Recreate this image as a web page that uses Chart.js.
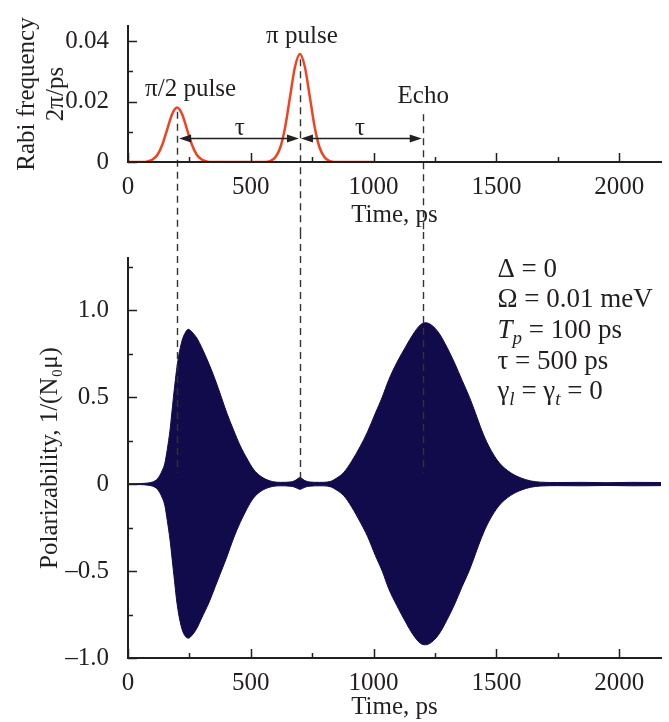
<!DOCTYPE html>
<html>
<head>
<meta charset="utf-8">
<script src="https://cdn.jsdelivr.net/npm/chart.js@4.4.1/dist/chart.umd.min.js"></script>
<style>
  body { margin: 0; background: #fff; }
  #top { position: absolute; left: 0; top: 0; width: 669px; height: 232px; }
  #bottom { position: absolute; left: 0; top: 232px; width: 669px; height: 490px; }
</style>
</head>
<body>
<div id="top"><canvas id="rabiChart"></canvas></div>
<div id="bottom"><canvas id="polChart"></canvas></div>
<script>
// top panel: Rabi frequency of the pi/2 and pi pulses (2pi/ps)
var pulseTime = [0, 60, 80, 100, 120, 140, 160, 180, 200, 220, 240, 260, 280, 300, 320, 340,
                 560, 580, 600, 620, 640, 660, 680, 700, 720, 740, 760, 780, 800, 820, 840, 1000];
var rabiFreq = [0, 0, 0.0002, 0.0008, 0.0024, 0.0058, 0.0109, 0.0159, 0.018, 0.0159, 0.0109, 0.0058, 0.0024, 0.0008, 0.0002, 0,
                0, 0.0004, 0.0016, 0.0048, 0.0116, 0.0217, 0.0315, 0.0357, 0.0315, 0.0217, 0.0116, 0.0048, 0.0016, 0.0004, 0, 0];

// bottom panel: envelope of the fast polarizability oscillation, 1/(N0 mu)
var envTime = [0, 50, 80, 100, 120, 140, 150, 160, 171, 185, 201, 219, 235, 246, 260, 280, 300, 330, 355, 380,
               402, 430, 457, 485, 511, 540, 579, 620, 660, 680, 690, 700, 710, 720, 740, 780, 823, 850, 878, 910,
               946, 975, 1007, 1035, 1061, 1095, 1129, 1160, 1190, 1211, 1235, 1265, 1299, 1330, 1360, 1390, 1415, 1440, 1469, 1510,
               1557, 1600, 1640, 1680, 1750, 1850, 1950, 2050, 2170];
var envUpper = [0.002, 0.003, 0.006, 0.012, 0.03, 0.08, 0.12, 0.2, 0.31, 0.5, 0.69, 0.82, 0.875, 0.89, 0.875, 0.84, 0.786, 0.69, 0.6, 0.5,
                0.41, 0.31, 0.22, 0.145, 0.085, 0.045, 0.018, 0.01, 0.012, 0.02, 0.03, 0.038, 0.03, 0.02, 0.012, 0.01, 0.015, 0.035, 0.066, 0.13,
                0.218, 0.3, 0.407, 0.5, 0.597, 0.7, 0.786, 0.86, 0.915, 0.928, 0.915, 0.87, 0.786, 0.695, 0.597, 0.5, 0.407, 0.31, 0.218, 0.125,
                0.066, 0.035, 0.018, 0.011, 0.009, 0.01, 0.008, 0.01, 0.009];
var envLower = [-0.002, -0.003, -0.006, -0.012, -0.03, -0.08, -0.123, -0.21, -0.32, -0.5, -0.7, -0.83, -0.878, -0.886, -0.87, -0.83, -0.77, -0.68, -0.59, -0.5,
                -0.42, -0.31, -0.22, -0.14, -0.08, -0.042, -0.017, -0.01, -0.012, -0.018, -0.025, -0.03, -0.025, -0.018, -0.012, -0.01, -0.015, -0.035, -0.066, -0.13,
                -0.22, -0.3, -0.41, -0.5, -0.6, -0.7, -0.79, -0.865, -0.915, -0.924, -0.91, -0.865, -0.78, -0.69, -0.59, -0.495, -0.4, -0.305, -0.215, -0.125,
                -0.066, -0.035, -0.018, -0.011, -0.009, -0.01, -0.008, -0.01, -0.009];

var xTicks = [0, 500, 1000, 1500, 2000];
var xTickLabels = ['0', '500', '1000', '1500', '2000'];
var xMinorTicks = [250, 750, 1250, 1750];
var rabiTicks = [0, 0.02, 0.04];
var rabiTickLabels = ['0', '0.02', '0.04'];
var rabiMinorTicks = [0.01, 0.03];
var polTicks = [-1, -0.5, 0, 0.5, 1];
var polTickLabels = ['\u20131.0', '\u20130.5', '0', '0.5', '1.0'];
var polMinorTicks = [-0.75, -0.25, 0.25, 0.75, 1.25];

// pulse centres and echo time, tau = 500 ps
var markerTimes = [200, 700, 1200];

var ink = '#231f20';
var serif = '"Liberation Serif", "DejaVu Serif", serif';
Chart.defaults.font.family = serif;
Chart.defaults.font.size = 25;
Chart.defaults.color = ink;

function pts(xs, ys) {
  return xs.map(function (x, i) { return { x: x, y: ys[i] }; });
}

function drawTicks(chart, minorX, minorY) {
  var ctx = chart.ctx, xs = chart.scales.x, ys = chart.scales.y, a = chart.chartArea;
  ctx.save();
  ctx.strokeStyle = ink;
  ctx.lineWidth = 1.5;
  ctx.beginPath();
  xTicks.forEach(function (v) {
    var p = Math.round(xs.getPixelForValue(v)) + 0.5;
    ctx.moveTo(p, a.bottom); ctx.lineTo(p, a.bottom - 9);
  });
  minorX.forEach(function (v) {
    var p = Math.round(xs.getPixelForValue(v)) + 0.5;
    ctx.moveTo(p, a.bottom); ctx.lineTo(p, a.bottom - 5);
  });
  ys.ticks.forEach(function (t) {
    var p = Math.round(ys.getPixelForValue(t.value)) + 0.5;
    ctx.moveTo(a.left, p); ctx.lineTo(a.left + 9, p);
  });
  minorY.forEach(function (v) {
    var p = Math.round(ys.getPixelForValue(v)) + 0.5;
    ctx.moveTo(a.left, p); ctx.lineTo(a.left + 5, p);
  });
  ctx.stroke();
  ctx.restore();
}

function xAxis(height, titlePad) {
  return {
    type: 'linear', min: 0, max: 2170,
    afterBuildTicks: function (s) { s.ticks = xTicks.map(function (v) { return { value: v }; }); },
    afterFit: function (s) { s.height = height; },
    grid: { display: false },
    border: { display: true, color: ink, width: 2, z: 1 },
    ticks: { padding: 2, maxRotation: 0, autoSkip: false, color: ink,
             callback: function (v, i) { return xTickLabels[i]; } },
    title: { display: true, text: 'Time, ps', color: ink, padding: { top: 0, bottom: titlePad } }
  };
}

function arrowHead(ctx, tipX, y, dir) {
  ctx.beginPath();
  ctx.moveTo(tipX, y);
  ctx.lineTo(tipX - dir * 12, y - 4);
  ctx.lineTo(tipX - dir * 12, y + 4);
  ctx.closePath();
  ctx.fill();
}

// labels, tau arrows and dashed guides on the pulse panel
var rabiNotes = {
  id: 'rabiNotes',
  afterDatasetsDraw: function (chart) {
    var ctx = chart.ctx, xs = chart.scales.x, ys = chart.scales.y;
    var guideTop = [0.0166, 0.034, 0.0158];
    ctx.save();
    ctx.strokeStyle = '#333';
    ctx.lineWidth = 1.4;
    ctx.setLineDash([7, 5]);
    markerTimes.forEach(function (t, i) {
      var p = Math.round(xs.getPixelForValue(t)) + 0.5;
      ctx.beginPath();
      ctx.moveTo(p, ys.getPixelForValue(guideTop[i]));
      ctx.lineTo(p, chart.height);
      ctx.stroke();
    });
    ctx.setLineDash([]);

    var ay = Math.round(ys.getPixelForValue(0.008)) + 0.5;
    ctx.strokeStyle = ink;
    ctx.fillStyle = ink;
    ctx.lineWidth = 1.5;
    for (var i = 0; i < 2; i++) {
      var x1 = xs.getPixelForValue(markerTimes[i]) + 2;
      var x2 = xs.getPixelForValue(markerTimes[i + 1]) - 1;
      ctx.beginPath();
      ctx.moveTo(x1 + 6, ay); ctx.lineTo(x2 - 6, ay);
      ctx.stroke();
      if (i === 0) arrowHead(ctx, x1, ay, -1);
      if (i === 1) arrowHead(ctx, x1 - 1, ay, -1);
      arrowHead(ctx, x2, ay, 1);
    }

    ctx.font = '25px ' + serif;
    ctx.textAlign = 'center';
    ctx.textBaseline = 'middle';
    ctx.fillText('\u03c0/2 pulse', xs.getPixelForValue(255), ys.getPixelForValue(0.024));
    ctx.fillText('\u03c0 pulse', xs.getPixelForValue(708), ys.getPixelForValue(0.0416));
    ctx.fillText('Echo', xs.getPixelForValue(1202), ys.getPixelForValue(0.0217));
    ctx.fillText('\u03c4', xs.getPixelForValue(455), ys.getPixelForValue(0.0111));
    ctx.fillText('\u03c4', xs.getPixelForValue(945), ys.getPixelForValue(0.0111));
    ctx.restore();
    drawTicks(chart, xMinorTicks, rabiMinorTicks);
  }
};

function drawRich(ctx, parts, x, y) {
  parts.forEach(function (p) {
    var size = p.sub ? 19 : 27;
    ctx.font = (p.it ? 'italic ' : '') + size + 'px ' + serif;
    ctx.fillText(p.s, x, y + (p.sub ? 8 : 0));
    x += ctx.measureText(p.s).width;
  });
}

// dashed guides and parameter list on the polarizability panel
var polNotes = {
  id: 'polNotes',
  afterDatasetsDraw: function (chart) {
    var ctx = chart.ctx, xs = chart.scales.x, ys = chart.scales.y;
    var guideEnd = [0.066, 0.03, 0.066];
    ctx.save();
    ctx.strokeStyle = '#333';
    ctx.lineWidth = 1.4;
    ctx.setLineDash([7, 5]);
    markerTimes.forEach(function (t, i) {
      var p = Math.round(xs.getPixelForValue(t)) + 0.5;
      ctx.beginPath();
      ctx.moveTo(p, 0);
      ctx.lineTo(p, ys.getPixelForValue(guideEnd[i]));
      ctx.stroke();
    });
    ctx.setLineDash([]);

    var lines = [
      [{ s: '\u0394 = 0' }],
      [{ s: '\u03a9 = 0.01 meV' }],
      [{ s: 'T', it: true }, { s: 'p', it: true, sub: true }, { s: ' = 100 ps' }],
      [{ s: '\u03c4 = 500 ps' }],
      [{ s: '\u03b3' }, { s: 'l', it: true, sub: true }, { s: ' = \u03b3' }, { s: 't', it: true, sub: true }, { s: ' = 0' }]
    ];
    var lineY = [1.231, 1.061, 0.879, 0.703, 0.532];
    ctx.fillStyle = ink;
    ctx.textAlign = 'left';
    ctx.textBaseline = 'middle';
    lines.forEach(function (parts, i) {
      drawRich(ctx, parts, xs.getPixelForValue(1504), ys.getPixelForValue(lineY[i]));
    });
    ctx.restore();
    drawTicks(chart, xMinorTicks, polMinorTicks);
  }
};

new Chart(document.getElementById('rabiChart'), {
  type: 'line',
  data: {
    datasets: [{
      data: pts(pulseTime, rabiFreq),
      borderColor: '#ee4422',
      borderWidth: 2.5,
      pointRadius: 0,
      cubicInterpolationMode: 'monotone'
    }]
  },
  options: {
    responsive: true,
    maintainAspectRatio: false,
    animation: false,
    layout: { padding: { top: 19, right: 8, left: 0, bottom: 0 } },
    plugins: { legend: { display: false }, tooltip: { enabled: false } },
    scales: {
      x: xAxis(70, 2),
      y: {
        type: 'linear', min: 0, max: 0.045,
        afterBuildTicks: function (s) { s.ticks = rabiTicks.map(function (v) { return { value: v }; }); },
        afterFit: function (s) { s.width = 128; },
        grid: { display: false },
        border: { display: true, color: ink, width: 2, z: 1 },
        ticks: { padding: 11, color: ink, callback: function (v, i) { return rabiTickLabels[i]; } },
        title: { display: true, text: ['Rabi frequency', '2\u03c0/ps'], color: ink,
                 font: { lineHeight: 1.16 }, padding: { top: 13, bottom: 0 } }
      }
    }
  },
  plugins: [rabiNotes]
});

new Chart(document.getElementById('polChart'), {
  type: 'line',
  data: {
    datasets: [{
      data: pts(envTime, envUpper),
      borderColor: '#110a4b',
      backgroundColor: '#110a4b',
      borderWidth: 1,
      pointRadius: 0,
      cubicInterpolationMode: 'monotone',
      fill: '+1'
    }, {
      data: pts(envTime, envLower),
      borderColor: '#110a4b',
      borderWidth: 1,
      pointRadius: 0,
      cubicInterpolationMode: 'monotone',
      fill: false
    }]
  },
  options: {
    responsive: true,
    maintainAspectRatio: false,
    animation: false,
    layout: { padding: { top: 21, right: 8, left: 0, bottom: 0 } },
    plugins: { legend: { display: false }, tooltip: { enabled: false } },
    scales: {
      x: xAxis(64, 0),
      y: {
        type: 'linear', min: -1, max: 1.3,
        afterBuildTicks: function (s) { s.ticks = polTicks.map(function (v) { return { value: v }; }); },
        afterFit: function (s) { s.width = 128; },
        grid: { display: false },
        border: { display: true, color: ink, width: 2, z: 1 },
        ticks: { padding: 11, color: ink, callback: function (v, i) { return polTickLabels[i]; } },
        title: { display: true, text: 'Polarizability, 1/(N\u2080\u03bc)', color: ink,
                 padding: { top: 35, bottom: 0 } }
      }
    }
  },
  plugins: [polNotes]
});
</script>
</body>
</html>
